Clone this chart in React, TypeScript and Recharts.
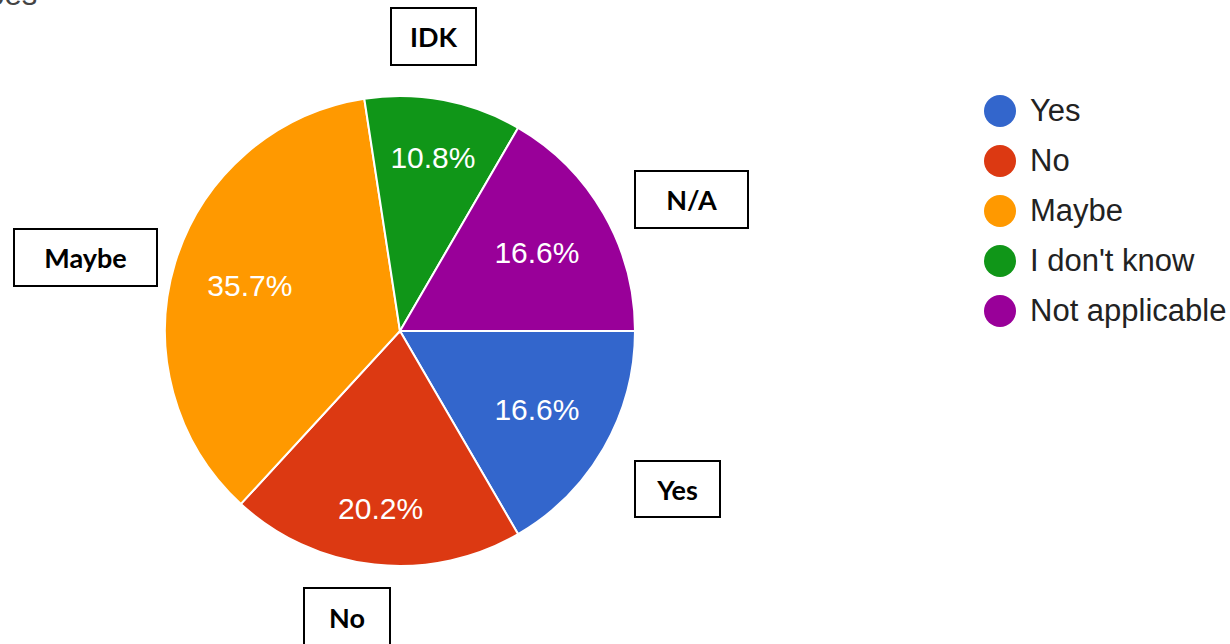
import { PieChart, Pie, Cell, Legend } from "recharts";

const CATEGORIES = ["Yes", "No", "Maybe", "I don't know", "Not applicable"];
const SHARES = [16.6, 20.2, 35.7, 10.8, 16.6];
const COLORS = ["#3366cc", "#dc3912", "#ff9900", "#109618", "#990099"];

// callout boxes drawn next to the pie
const CALLOUTS = ["IDK", "N/A", "Maybe", "Yes", "No"];
const CALLOUT_BOXES = [
  { left: 390, top: 7, width: 87, height: 59 },
  { left: 634, top: 170, width: 115, height: 59 },
  { left: 13, top: 228, width: 145, height: 59 },
  { left: 634, top: 460, width: 87, height: 58 },
  { left: 303, top: 587, width: 88, height: 70 },
];

// distance of each slice label from the centre (px)
const LABEL_R = [158, 179, 157, 177, 158];

const RAD = Math.PI / 180;

const data = CATEGORIES.map((name, i) => ({ name, value: SHARES[i] }));

function renderLabel(props: any) {
  const { cx, cy, midAngle, index, value } = props;
  const r = LABEL_R[index];
  const x = cx + Math.cos(-midAngle * RAD) * r;
  const y = cy + Math.sin(-midAngle * RAD) * r;
  return (
    <text
      x={x}
      y={y}
      fill="#ffffff"
      textAnchor="middle"
      dominantBaseline="central"
      style={{ fontFamily: "Arial, 'Liberation Sans', sans-serif", fontSize: 30 }}
    >
      {`${value.toFixed(1)}%`}
    </text>
  );
}

function renderLegend() {
  return (
    <div style={{ fontFamily: "Arial, 'Liberation Sans', sans-serif" }}>
      {CATEGORIES.map((c, i) => (
        <div key={c} style={{ display: "flex", alignItems: "center", height: 50 }}>
          <span
            style={{
              width: 32,
              height: 32,
              borderRadius: "50%",
              background: COLORS[i],
              display: "inline-block",
              marginRight: 14,
              flexShrink: 0,
            }}
          />
          <span style={{ fontSize: 31, color: "#222222", whiteSpace: "nowrap" }}>{c}</span>
        </div>
      ))}
    </div>
  );
}

export default function App() {
  return (
    <div
      style={{
        position: "absolute",
        left: 0,
        top: 0,
        width: 1230,
        height: 644,
        overflow: "hidden",
        background: "#ffffff",
      }}
    >
      <div
        style={{
          position: "absolute",
          left: -30,
          top: -23,
          fontFamily: "Arial, 'Liberation Sans', sans-serif",
          fontSize: 31,
          color: "#444444",
          whiteSpace: "nowrap",
        }}
      >
        does
      </div>
      <PieChart width={1230} height={644} margin={{ top: 0, right: 0, bottom: 0, left: 0 }}>
        <Pie
          data={data}
          dataKey="value"
          nameKey="name"
          cx={400}
          cy={331}
          outerRadius={235}
          startAngle={0}
          endAngle={-360}
          stroke="#ffffff"
          strokeWidth={2}
          label={renderLabel}
          labelLine={false}
          isAnimationActive={false}
        >
          {data.map((d, i) => (
            <Cell key={d.name} fill={COLORS[i]} />
          ))}
        </Pie>
        <Legend
          content={renderLegend}
          layout="vertical"
          wrapperStyle={{ position: "absolute", left: 984, top: 86, width: 246 }}
        />
      </PieChart>
      {CALLOUTS.map((t, i) => {
        const b = CALLOUT_BOXES[i];
        return (
          <div
            key={t}
            style={{
              position: "absolute",
              left: b.left,
              top: b.top,
              width: b.width,
              height: b.height,
              boxSizing: "border-box",
              border: "2px solid #000000",
              background: "#ffffff",
              display: "flex",
              alignItems: i === 4 ? "flex-start" : "center",
              paddingTop: i === 4 ? 12 : 0,
              justifyContent: "center",
              fontFamily: "Lato, 'Open Sans', sans-serif",
              fontWeight: 700,
              fontSize: 27,
              color: "#000000",
            }}
          >
            {t}
          </div>
        );
      })}
    </div>
  );
}
